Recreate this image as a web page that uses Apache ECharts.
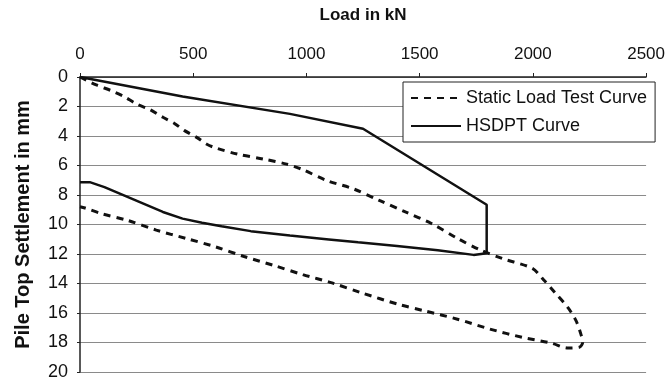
<!DOCTYPE html>
<html>
<head>
<meta charset="utf-8">
<script src="https://cdn.jsdelivr.net/npm/echarts@6/dist/echarts.min.js"></script>
<style>
html,body{margin:0;padding:0;background:#fff;}
#chart{width:668px;height:381px;}
</style>
</head>
<body>
<div id="chart"></div>
<script>
// Load in kN, settlement in mm
var xTicks = [0, 500, 1000, 1500, 2000, 2500];
var yTicks = [0, 2, 4, 6, 8, 10, 12, 14, 16, 18, 20];

var staticLoad = [0, 72, 137, 194, 250, 309, 366, 417, 460, 517, 560, 603, 697, 812, 913, 977, 1092, 1207, 1322, 1437, 1552, 1667, 1767, 1868, 1997, 2047, 2098, 2155, 2191, 2212, 2220, 2205, 2155, 2083, 1954, 1810, 1667, 1523, 1408, 1243, 1113, 984, 855, 725, 596, 467, 337, 208, 94, 22, 0];
var staticSettle = [0, 0.54, 0.92, 1.32, 1.83, 2.21, 2.73, 3.15, 3.62, 4.11, 4.56, 4.83, 5.23, 5.57, 5.91, 6.24, 7.03, 7.58, 8.37, 9.15, 9.93, 10.94, 11.72, 12.32, 12.97, 13.74, 14.63, 15.64, 16.54, 17.43, 17.99, 18.32, 18.37, 18.05, 17.65, 17.09, 16.42, 15.86, 15.42, 14.63, 13.96, 13.40, 12.77, 12.17, 11.50, 10.94, 10.38, 9.71, 9.26, 8.88, 8.80];

var hsdptLoad = [0, 453, 927, 1250, 1796, 1796, 1738, 1580, 1400, 1228, 1099, 927, 754, 625, 539, 453, 366, 280, 194, 108, 43, 0];
var hsdptSettle = [0, 1.32, 2.50, 3.51, 8.66, 11.95, 12.06, 11.75, 11.45, 11.21, 11.01, 10.75, 10.45, 10.12, 9.88, 9.60, 9.15, 8.59, 8.03, 7.47, 7.13, 7.13];

function pairs(xs, ys) {
  var out = [];
  for (var i = 0; i < xs.length; i++) out.push([xs[i], ys[i]]);
  return out;
}

var chart = echarts.init(document.getElementById('chart'), null, {renderer: 'canvas'});
chart.setOption({
  animation: false,
  backgroundColor: '#ffffff',
  textStyle: {fontFamily: 'Liberation Sans, Arial, sans-serif', color: '#111'},
  grid: {left: 80, right: 8, top: 77, bottom: 6, containLabel: false},
  legend: {
    orient: 'vertical',
    left: 403,
    top: 82,
    padding: [7, 8, 7, 7],
    itemWidth: 50,
    itemHeight: 14,
    itemGap: 10,
    itemTextGap: 5,
    backgroundColor: '#fff',
    borderColor: '#222',
    borderWidth: 1,
    borderRadius: 0,
    itemStyle: {opacity: 0},
    textStyle: {fontSize: 18, color: '#111', fontFamily: 'Liberation Sans, Arial, sans-serif'},
    data: ['Static Load Test Curve', 'HSDPT Curve']
  },
  xAxis: {
    type: 'value',
    position: 'top',
    min: xTicks[0],
    max: xTicks[xTicks.length - 1],
    interval: 500,
    name: 'Load in kN',
    nameLocation: 'middle',
    nameGap: 53,
    nameTextStyle: {fontSize: 17, fontWeight: 'bold', color: '#111'},
    axisLine: {show: true, onZero: false, lineStyle: {color: '#222', width: 1.5}},
    axisTick: {show: true, length: 4, lineStyle: {color: '#222'}},
    axisLabel: {fontSize: 17, color: '#111', margin: 14, formatter: function (v) { return String(v); }},
    splitLine: {show: false}
  },
  yAxis: {
    type: 'value',
    inverse: true,
    min: yTicks[0],
    max: yTicks[yTicks.length - 1],
    interval: 2,
    name: 'Pile Top Settlement in mm',
    nameLocation: 'middle',
    nameRotate: 90,
    nameGap: 47,
    nameTextStyle: {fontSize: 20, fontWeight: 'bold', color: '#111'},
    axisLine: {show: true, onZero: false, lineStyle: {color: '#222', width: 1.5}},
    axisTick: {show: true, length: 3, lineStyle: {color: '#222'}},
    axisLabel: {fontSize: 18, color: '#111', margin: 12, formatter: function (v) { return String(v); }},
    splitLine: {show: true, lineStyle: {color: '#8a8a8a', width: 1}}
  },
  series: [
    {
      name: 'Static Load Test Curve',
      type: 'line',
      data: pairs(staticLoad, staticSettle),
      symbol: 'none',
      smooth: 0.3,
      lineStyle: {color: '#111', width: 3, type: [7, 6]},
      itemStyle: {color: '#111'}
    },
    {
      name: 'HSDPT Curve',
      type: 'line',
      data: pairs(hsdptLoad, hsdptSettle),
      symbol: 'none',
      lineStyle: {color: '#111', width: 2.5, type: 'solid'},
      itemStyle: {color: '#111'}
    }
  ]
});
</script>
</body>
</html>
